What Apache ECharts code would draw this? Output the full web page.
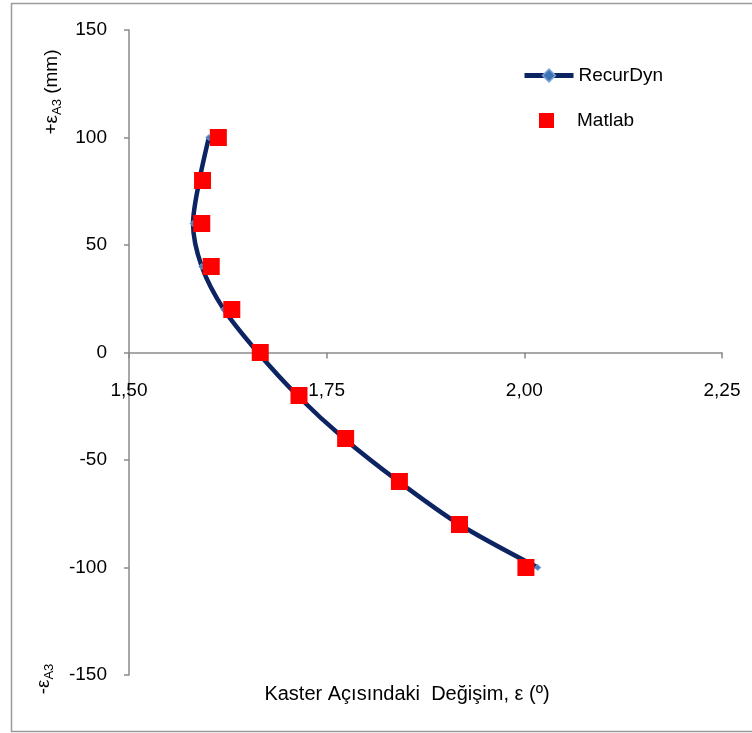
<!DOCTYPE html>
<html>
<head>
<meta charset="utf-8">
<script src="https://cdn.jsdelivr.net/npm/echarts@6/dist/echarts.min.js"></script>
<style>
html,body{margin:0;padding:0;background:#fff;}
#c{width:752px;height:733px;}
</style>
</head>
<body>
<div id="c"></div>
<script>
// Vertical position (mm)
const positions = [100, 80, 60, 40, 20, 0, -20, -40, -60, -80, -100];
// Caster angle change (deg) - RecurDyn
const recurDyn = [1.601, 1.589, 1.581, 1.592, 1.620, 1.663, 1.713, 1.772, 1.841, 1.918, 2.017];
// Caster angle change (deg) - Matlab
const matlab = [1.613, 1.593, 1.592, 1.604, 1.630, 1.666, 1.715, 1.774, 1.842, 1.918, 2.002];
const xTicks = [1.50, 1.75, 2.00, 2.25];
const xTickLabels = ['1,50', '1,75', '2,00', '2,25'];
const yTicks = [-150, -100, -50, 0, 50, 100, 150];

const FONT = 'Liberation Sans, Arial, sans-serif';
const W = 752, H = 733;
const GRID = {left: 129, right: 30, top: 30, bottom: 58};
const yMin = yTicks[0], yMax = yTicks[yTicks.length - 1];
// place the x axis where y = 0 (labels travel with it)
const gridH = H - GRID.top - GRID.bottom;
const zeroOffset = -gridH * (0 - yMin) / (yMax - yMin);

const chart = echarts.init(document.getElementById('c'), null, {renderer: 'canvas'});

const recurData = positions.map((y, i) => [recurDyn[i], y]);
const matlabData = positions.map((y, i) => [matlab[i], y]);

chart.setOption({
  animation: false,
  backgroundColor: '#fff',
  grid: GRID,
  xAxis: {
    type: 'value', position: 'bottom', offset: zeroOffset,
    min: xTicks[0], max: xTicks[xTicks.length - 1], interval: 0.25,
    axisLine: {onZero: false, lineStyle: {color: '#8a8a8a', width: 1.5}},
    axisTick: {show: true, length: 6, lineStyle: {color: '#8a8a8a', width: 1.5}},
    splitLine: {show: false},
    axisLabel: {
      margin: 29, fontSize: 19, color: '#000', fontFamily: FONT,
      formatter: v => { const i = xTicks.findIndex(t => Math.abs(t - v) < 1e-9); return i >= 0 ? xTickLabels[i] : ''; }
    }
  },
  yAxis: {
    type: 'value',
    min: yMin, max: yMax, interval: 50,
    axisLine: {show: true, onZero: false, lineStyle: {color: '#8a8a8a', width: 1.5}},
    axisTick: {show: true, length: 5, lineStyle: {color: '#8a8a8a', width: 1.5}},
    splitLine: {show: false},
    axisLabel: {margin: 22, fontSize: 19, color: '#000', fontFamily: FONT}
  },
  legend: [
    {
      data: ['RecurDyn'], left: 522, top: 66, padding: 0, itemWidth: 49, itemHeight: 16,
      lineStyle: {width: 5, color: '#0c2461'},
      itemStyle: {color: '#3d72b4', borderColor: '#7aa3d6', borderWidth: 1.5},
      textStyle: {fontSize: 19, color: '#000', fontFamily: FONT}
    },
    {
      data: ['Matlab'], left: 539, top: 111, padding: 0, itemWidth: 15, itemHeight: 15,
      textStyle: {fontSize: 19, color: '#000', fontFamily: FONT, padding: [0, 0, 0, 18]}
    }
  ],
  series: [
    {
      name: 'RecurDyn', type: 'line', data: recurData, smooth: 0.3,
      symbol: 'diamond', symbolSize: 6, showSymbol: true,
      lineStyle: {color: '#0c2461', width: 4.5},
      itemStyle: {color: '#4a7ebb', borderColor: '#7aa3d6', borderWidth: 1},
      z: 2
    },
    {
      name: 'Matlab', type: 'scatter', data: matlabData,
      symbol: 'rect', symbolSize: 17,
      itemStyle: {color: '#ff0000', opacity: 1},
      z: 3
    }
  ],
  graphic: [
    {
      type: 'rect', silent: true, z: -1,
      shape: {x: 11.5, y: 3.5, width: 800, height: 728},
      style: {fill: 'none', stroke: '#9a9a9a', lineWidth: 1.5}
    },
    {
      type: 'text', x: 407, y: 694,
      style: {text: 'Kaster Açısındaki  Değişim, ε (º)', font: '20px ' + FONT, fill: '#000', align: 'center', verticalAlign: 'middle'}
    },
    {
      type: 'text', x: 52, y: 92, rotation: Math.PI / 2,
      style: {
        text: '{a|+ε}{s|A3}{a| (mm)}', align: 'center', verticalAlign: 'middle', fill: '#000',
        rich: {
          a: {fontSize: 19, fontFamily: FONT, lineHeight: 24, verticalAlign: 'middle', fill: '#000'},
          s: {fontSize: 13, fontFamily: FONT, lineHeight: 24, verticalAlign: 'bottom', padding: [6, 0, 0, 0], fill: '#000'}
        }
      }
    },
    {
      type: 'text', x: 44, y: 679, rotation: Math.PI / 2,
      style: {
        text: '{a|-ε}{s|A3}', align: 'center', verticalAlign: 'middle', fill: '#000',
        rich: {
          a: {fontSize: 19, fontFamily: FONT, lineHeight: 24, verticalAlign: 'middle', fill: '#000'},
          s: {fontSize: 13, fontFamily: FONT, lineHeight: 24, verticalAlign: 'bottom', padding: [6, 0, 0, 0], fill: '#000'}
        }
      }
    }
  ]
});
</script>
</body>
</html>
